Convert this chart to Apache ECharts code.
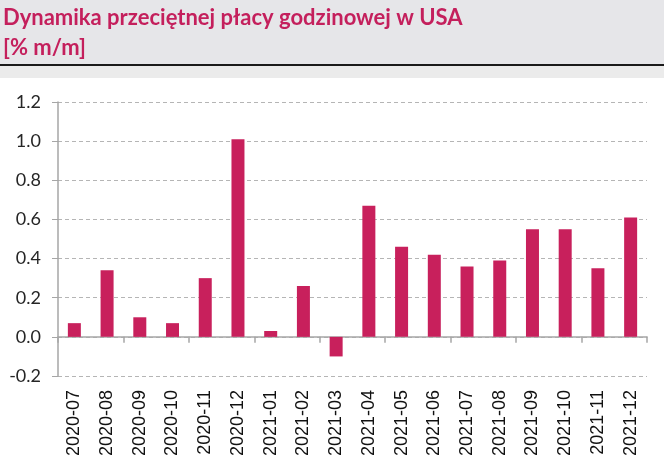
<!DOCTYPE html>
<html>
<head>
<meta charset="utf-8">
<script src="https://cdn.jsdelivr.net/npm/echarts@6/dist/echarts.min.js"></script>
<style>
  html, body { margin: 0; padding: 0; background: #fff; }
  #main { width: 664px; height: 470px; }
</style>
</head>
<body>
<div id="main"></div>
<script>
// dane: miesieczna dynamika przecietnej placy godzinowej w USA [% m/m]
var months = ['2020-07', '2020-08', '2020-09', '2020-10', '2020-11', '2020-12',
              '2021-01', '2021-02', '2021-03', '2021-04', '2021-05', '2021-06',
              '2021-07', '2021-08', '2021-09', '2021-10', '2021-11', '2021-12'];
var wageMoM = [0.07, 0.34, 0.10, 0.07, 0.30, 1.01,
               0.03, 0.26, -0.10, 0.67, 0.46, 0.42,
               0.36, 0.39, 0.55, 0.55, 0.35, 0.61];
var titleLines = ['Dynamika przeciętnej płacy godzinowej w USA', '[% m/m]'];

var chart = echarts.init(document.getElementById('main'));

var option = {
    animation: false,
    backgroundColor: '#ffffff',
    graphic: [
        { type: 'rect', left: 0, top: 0, shape: { width: 664, height: 65 }, style: { fill: '#e6e6e9' }, z: -1 },
        { type: 'rect', left: 0, top: 65, shape: { width: 664, height: 13 }, style: { fill: '#ebebeb' }, z: -1 },
        { type: 'rect', left: 0, top: 64, shape: { width: 664, height: 2 }, style: { fill: '#1a1a1a' } },
        {
            type: 'text', left: 3, top: 3,
            style: {
                text: titleLines.join('\n'),
                fill: '#c41f5c',
                font: 'bold 22px Lato, sans-serif',
                lineHeight: 30
            }
        }
    ],
    grid: { left: 58, right: 17, top: 102, bottom: 94 },
    xAxis: [
        {
            // os z etykietami (dol wykresu)
            type: 'category',
            data: months,
            position: 'bottom',
            axisLine: { show: false, onZero: false },
            axisTick: { show: false },
            axisLabel: {
                rotate: 90,
                margin: 14,
                interval: 0,
                color: '#111',
                fontFamily: '"Liberation Sans", Arial, sans-serif',
                fontSize: 18
            }
        },
        {
            // linia zera z kreskami
            type: 'category',
            data: months,
            position: 'bottom',
            axisLine: { show: true, onZero: true, lineStyle: { color: '#a6a6a6', width: 1.5 } },
            axisTick: { show: true, inside: false, length: 6, alignWithLabel: false, lineStyle: { color: '#a6a6a6', width: 1.5 } },
            axisLabel: { show: false }
        }
    ],
    yAxis: {
        type: 'value',
        min: -0.2,
        max: 1.2,
        interval: 0.2,
        axisLine: { show: true, lineStyle: { color: '#a6a6a6', width: 1.5 } },
        axisTick: { show: true, length: 6, lineStyle: { color: '#a6a6a6' } },
        axisLabel: {
            margin: 17,
            color: '#262626',
            fontFamily: 'Lato, sans-serif',
            fontSize: 18,
            formatter: function (v) { return v.toFixed(1); }
        },
        splitLine: { show: true, lineStyle: { color: '#b5b5b5', type: [4, 3], width: 1.2 } }
    },
    series: [{
        name: 'Dynamika',
        type: 'bar',
        xAxisIndex: 0,
        barWidth: 13,
        itemStyle: { color: '#c8205c' },
        data: wageMoM
    }]
};
chart.setOption(option);
</script>
</body>
</html>
